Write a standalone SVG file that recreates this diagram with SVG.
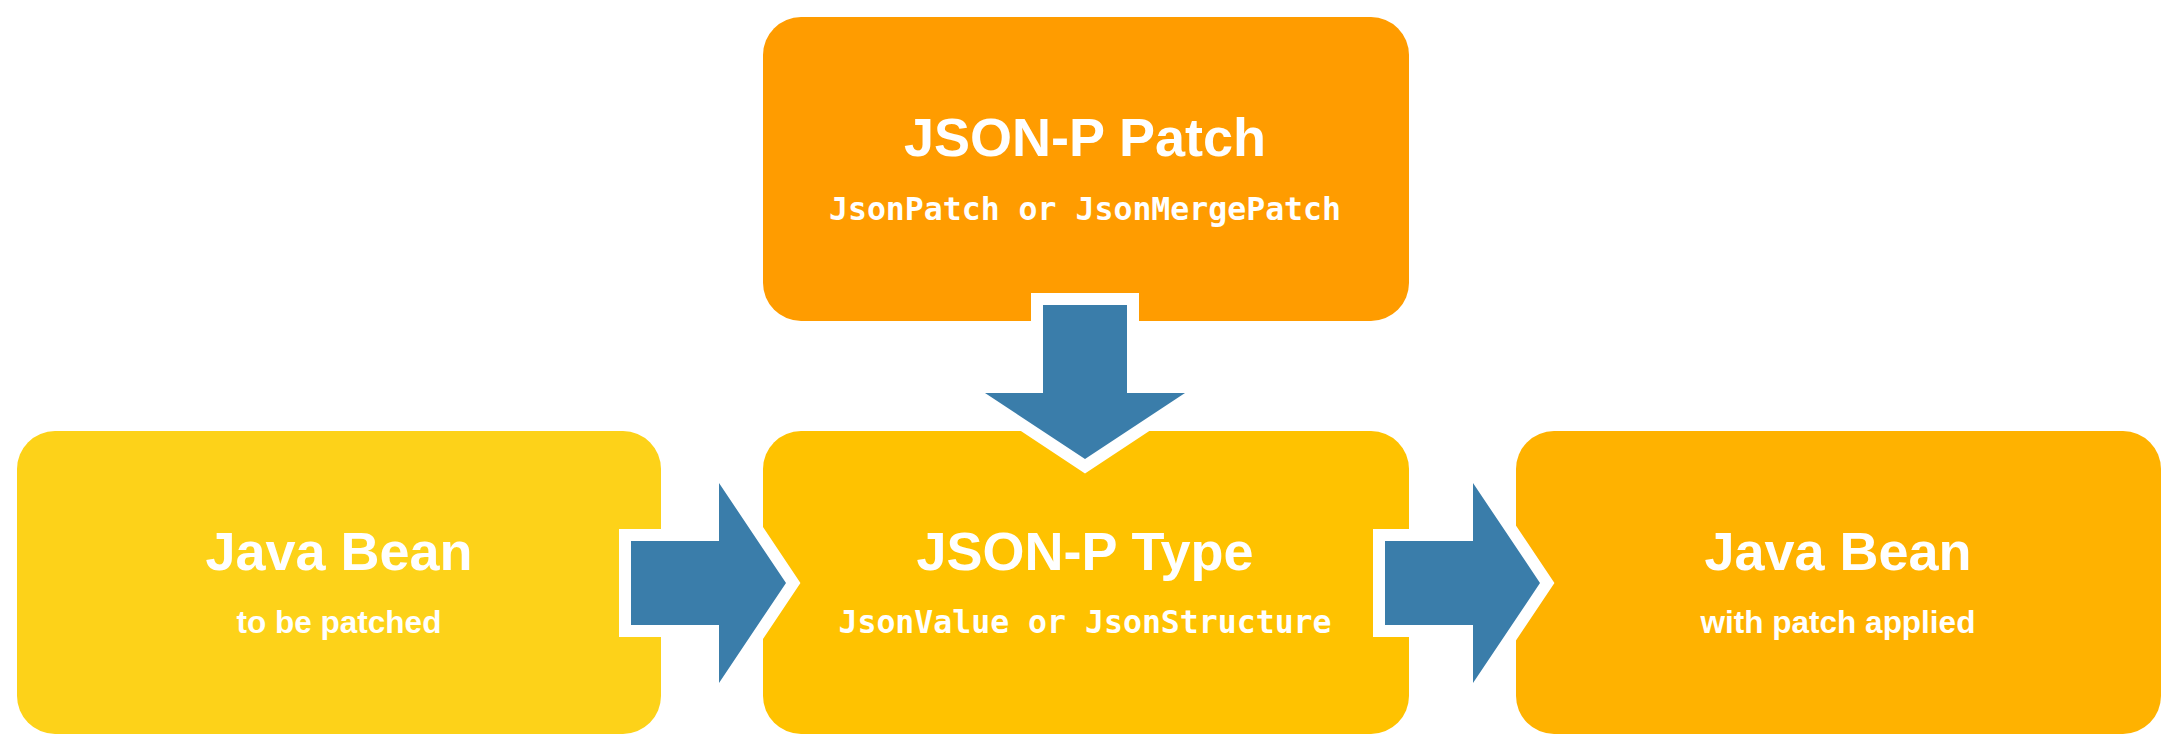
<svg xmlns="http://www.w3.org/2000/svg" width="2174" height="750" viewBox="0 0 2174 750">
  <style>
    .title { font-family: "Liberation Sans", Arial, sans-serif; font-weight: bold; font-size: 54px; fill: #ffffff; text-anchor: middle; }
    .sub { font-family: "Liberation Sans", Arial, sans-serif; font-weight: bold; font-size: 31.5px; fill: #ffffff; text-anchor: middle; }
    .mono { font-family: "DejaVu Sans Mono", "Liberation Mono", monospace; font-weight: bold; font-size: 31.5px; fill: #ffffff; text-anchor: middle; }
    .arrow { fill: #3A7DAA; stroke: #ffffff; stroke-width: 24; stroke-linejoin: miter; stroke-miterlimit: 10; paint-order: stroke; }
  </style>
  <rect width="2174" height="750" fill="#ffffff"/>
  <g id="json-p-patch">
    <rect x="763" y="17" width="646" height="304" rx="38" ry="38" fill="#FF9C00"/>
    <text class="title" x="1085" y="156">JSON-P Patch</text>
    <text class="mono" x="1085" y="220">JsonPatch or JsonMergePatch</text>
  </g>
  <g id="java-bean-input">
    <rect x="17" y="431" width="644" height="303" rx="38" ry="38" fill="#FDD219"/>
    <text class="title" x="339" y="570">Java Bean</text>
    <text class="sub" x="339" y="633">to be patched</text>
  </g>
  <g id="json-p-type">
    <rect x="763" y="431" width="646" height="303" rx="38" ry="38" fill="#FFC200"/>
    <text class="title" x="1085" y="570">JSON-P Type</text>
    <text class="mono" x="1085" y="633">JsonValue or JsonStructure</text>
  </g>
  <g id="java-bean-output">
    <rect x="1516" y="431" width="645" height="303" rx="38" ry="38" fill="#FFB200"/>
    <text class="title" x="1838" y="570">Java Bean</text>
    <text class="sub" x="1838" y="633">with patch applied</text>
  </g>
  <g id="connectors">
    <path class="arrow" d="M1043,305 L1127,305 L1127,393 L1185,393 L1085,459 L985,393 L1043,393 Z"/>
    <path class="arrow" d="M631,541 L719,541 L719,483 L786,583 L719,683 L719,625 L631,625 Z"/>
    <path class="arrow" d="M1385,541 L1473,541 L1473,483 L1540,583 L1473,683 L1473,625 L1385,625 Z"/>
  </g>
</svg>
